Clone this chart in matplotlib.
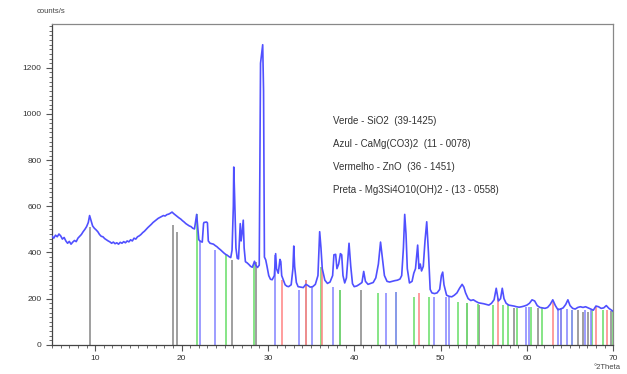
import matplotlib
matplotlib.use("Agg")
import matplotlib.pyplot as plt
from matplotlib.ticker import MultipleLocator

plt.rcParams['font.family'] = ['Liberation Sans', 'DejaVu Sans']

# Measured diffractogram (2θ in degrees, intensity in counts/s)
two_theta = [
    5.0, 5.2, 5.4, 5.6, 5.8, 6.0, 6.2, 6.4, 6.6, 6.8, 7.0, 7.2, 7.4, 7.6, 7.8,
    8.0, 8.2, 8.4, 8.6, 8.8, 9.0, 9.2, 9.35, 9.5, 9.7, 9.9, 10.1, 10.3, 10.5,
    10.7, 10.9, 11.1, 11.3, 11.5, 11.7, 11.9, 12.1, 12.3, 12.5, 12.7, 12.9,
    13.1, 13.3, 13.5, 13.7, 13.9, 14.1, 14.3, 14.5, 14.7, 14.9, 15.1, 15.3,
    15.5, 15.7, 15.9, 16.1, 16.3, 16.5, 16.7, 16.9, 17.1, 17.3, 17.5, 17.7,
    17.9, 18.1, 18.3, 18.5, 18.7, 18.9, 19.1, 19.3, 19.5, 19.7, 19.9, 20.1,
    20.3, 20.5, 20.7, 20.9, 21.1, 21.3, 21.5, 21.65, 21.75, 21.85, 22.0, 22.2,
    22.4, 22.55, 22.6, 22.9, 23.0, 23.1, 23.3, 23.5, 23.7, 23.9, 24.1, 24.3,
    24.5, 24.7, 24.9, 25.1, 25.3, 25.5, 25.7, 25.85, 26.0, 26.05, 26.15, 26.3,
    26.45, 26.6, 26.8, 26.9, 27.0, 27.15, 27.25, 27.4, 27.6, 27.8, 28.0, 28.2,
    28.45, 28.6, 28.8, 29.0, 29.15, 29.4, 29.5, 29.6, 29.75, 29.9, 30.1, 30.3,
    30.5, 30.75, 30.9, 31.0, 31.2, 31.4, 31.5, 31.6, 31.8, 32.0, 32.2, 32.4,
    32.7, 32.9, 33.0, 33.1, 33.3, 33.5, 33.8, 34.1, 34.4, 34.6, 34.9, 35.2,
    35.5, 35.8, 36.0, 36.15, 36.3, 36.6, 36.9, 37.2, 37.5, 37.65, 37.85, 38.0,
    38.2, 38.4, 38.55, 38.7, 38.9, 39.1, 39.4, 39.6, 39.8, 40.0, 40.3, 40.6,
    40.9, 41.1, 41.3, 41.6, 41.9, 42.2, 42.5, 42.8, 43.05, 43.25, 43.5, 43.8,
    44.1, 44.4, 44.7, 45.0, 45.3, 45.5, 45.7, 45.85, 46.0, 46.15, 46.4, 46.7,
    46.9, 47.1, 47.35, 47.5, 47.65, 47.8, 48.0, 48.2, 48.4, 48.6, 48.8, 49.0,
    49.3, 49.6, 49.9, 50.1, 50.25, 50.4, 50.7, 51.0, 51.3, 51.6, 51.9, 52.2,
    52.5, 52.7, 52.9, 53.2, 53.5, 53.8, 54.1, 54.4, 54.7, 55.0, 55.3, 55.6,
    55.9, 56.2, 56.45, 56.7, 56.95, 57.15, 57.35, 57.6, 57.9, 58.2, 58.5, 58.8,
    59.1, 59.4, 59.7, 60.0, 60.3, 60.6, 60.9, 61.2, 61.5, 61.8, 62.1, 62.4,
    62.7, 63.0, 63.3, 63.6, 63.9, 64.2, 64.5, 64.75, 65.0, 65.3, 65.6, 65.9,
    66.2, 66.5, 66.8, 67.1, 67.4, 67.7, 68.0, 68.3, 68.6, 68.9, 69.2, 69.5,
    69.8, 70.0,
]
counts = [
    470, 462, 475, 468, 480, 472, 458, 465, 450, 440, 448, 436, 445, 452, 447,
    462, 470, 478, 490, 500, 512, 530, 560, 540, 515, 505, 498, 490, 478,
    470, 468, 460, 455, 450, 446, 440, 445, 438, 442, 436, 444,
    440, 447, 442, 450, 446, 455, 450, 462, 458, 468, 472, 478,
    486, 492, 500, 508, 515, 522, 530, 536, 542, 548, 552, 556,
    560, 558, 564, 566, 570, 575, 568, 562, 556, 550, 545, 538,
    532, 525, 520, 515, 512, 505, 502, 540, 565, 520, 455, 448,
    445, 525, 530, 532, 528, 450, 440, 438, 436, 430, 425, 418,
    412, 405, 398, 392, 388, 382, 378, 410, 600, 770, 640, 420,
    375, 372, 525, 450, 480, 540, 420, 360, 355, 348, 340, 336,
    362, 345, 335, 345, 1220, 1300, 1100, 380, 368, 340, 300, 284,
    282, 300, 395, 330, 310, 370, 360, 300, 280, 260, 254, 252,
    260, 330, 428, 340, 270, 252, 250, 248, 262, 258, 250, 252,
    262, 300, 490, 420, 330, 280, 266, 272, 300, 390, 392, 330,
    350, 395, 390, 300, 268, 290, 440, 340, 265, 252, 255, 262,
    270, 318, 275, 262, 266, 270, 290, 350, 445, 380, 300, 275,
    272, 275, 278, 280, 285, 300, 420, 565, 480, 330, 268, 275,
    310, 330, 432, 330, 350, 320, 340, 450, 533, 400, 240, 225,
    222, 225, 240, 300, 315, 260, 215, 210, 208, 215, 225, 245,
    262, 250, 225, 200, 192, 195, 188, 182, 180, 178, 175, 172,
    180, 195, 245, 190, 200, 245, 200, 180, 172, 170, 168, 165,
    163, 165, 168, 172, 180, 195, 190, 170, 162, 160, 158, 162,
    175, 195, 170, 152, 155, 160, 175, 195, 170, 158, 155, 162,
    165, 162, 165, 160, 155, 150, 168, 165, 158, 160, 170, 158,
    150, 145,
]

# Reference patterns (stick positions in 2θ and stick heights in counts/s)
sio2_pos = [21.75, 25.2, 28.4, 36.1, 38.3, 42.7, 44.8, 46.9, 48.7, 52.0, 53.05,
            54.3, 56.1, 57.2, 57.8, 58.9, 60.5, 61.8, 65.2, 67.5, 68.8, 69.95]
sio2_h = [565, 389, 353, 338, 238, 223, 230, 209, 209, 187, 180,
          175, 173, 173, 173, 158, 165, 158, 151, 150, 150, 145]

dolomite_pos = [22.1, 23.9, 30.85, 33.6, 35.1, 37.5, 43.7, 44.8, 49.3, 50.6,
                50.95, 59.9, 60.3, 63.6, 63.95, 64.7, 65.2, 66.7, 67.45]
dolomite_h = [450, 410, 389, 238, 252, 252, 223, 230, 209, 209,
              209, 165, 165, 158, 158, 155, 151, 150, 150]

zno_pos = [31.6, 34.4, 36.25, 47.55, 56.6, 63.0, 68.0, 69.3]
zno_h = [281, 281, 338, 223, 202, 187, 165, 151]

talc_pos = [9.4, 19.0, 19.5, 25.85, 28.6, 34.45, 38.4, 40.75, 53.1, 54.5,
            58.5, 61.3, 63.95, 65.9, 66.5, 67.1, 69.8]
talc_h = [511, 518, 489, 367, 360, 281, 238, 238, 180, 173,
          158, 158, 158, 151, 144, 144, 145]

legend_lines = [
    "Verde - SiO2  (39-1425)",
    "Azul - CaMg(CO3)2  (11 - 0078)",
    "Vermelho - ZnO  (36 - 1451)",
    "Preta - Mg3Si4O10(OH)2 - (13 - 0558)",
]

x_ticks = [10, 20, 30, 40, 50, 60, 70]
y_ticks = [0, 200, 400, 600, 800, 1000, 1200]

fig = plt.figure(figsize=(6.27, 3.74), dpi=100)
ax = fig.add_axes([0.083, 0.078, 0.895, 0.858])

stick_sets = [
    (talc_pos, talc_h, '#8c8c8c'),
    (sio2_pos, sio2_h, '#6fe06f'),
    (dolomite_pos, dolomite_h, '#8a8aff'),
    (zno_pos, zno_h, '#ff8a8a'),
]
for pos, h, col in stick_sets:
    ax.vlines(pos, 0, h, colors=col, linewidth=1.3, alpha=0.9, zorder=2)

ax.plot(two_theta, counts, color='#5050ff', linewidth=1.2, zorder=3)

ax.set_xlim(5, 70)
ax.set_ylim(0, 1390)
ax.set_xticks(x_ticks)
ax.set_yticks(y_ticks)
ax.xaxis.set_minor_locator(MultipleLocator(1))
ax.yaxis.set_minor_locator(MultipleLocator(20))
ax.tick_params(axis='both', which='major', direction='out', length=4,
               width=0.8, labelsize=6, colors='#555555', labelcolor='#333333')
ax.tick_params(axis='both', which='minor', direction='out', length=2,
               width=0.6, colors='#555555')

for side in ('left', 'bottom'):
    ax.spines[side].set_color('#444444')
    ax.spines[side].set_linewidth(0.9)
for side in ('top', 'right'):
    ax.spines[side].set_color('#888888')
    ax.spines[side].set_linewidth(0.9)

fig.text(0.058, 0.968, "counts/s", fontsize=5.5, color='#444444',
         ha='left', va='center')
fig.text(0.99, 0.018, "°2Theta", fontsize=5.5, color='#444444',
         ha='right', va='center')

for i, line in enumerate(legend_lines):
    ax.text(37.6, 968 - i * 99, line, fontsize=7, color='#333333',
            ha='left', va='center')

fig.savefig("out.png", dpi=100)
